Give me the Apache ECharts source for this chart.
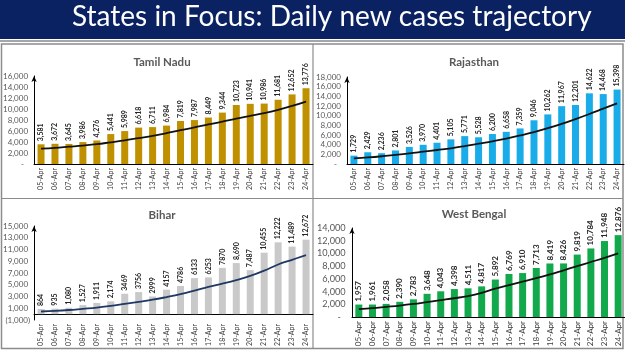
<!DOCTYPE html>
<html>
<head>
<meta charset="utf-8">
<script src="https://cdn.jsdelivr.net/npm/echarts@6/dist/echarts.min.js"></script>
<style>
  html, body { margin: 0; padding: 0; background: #fff; }
  #main { width: 625px; height: 351px; }
</style>
</head>
<body>
<div id="main"></div>
<script>
// dates on x axis
const days = ['05-Apr', '06-Apr', '07-Apr', '08-Apr', '09-Apr', '10-Apr', '11-Apr', '12-Apr', '13-Apr', '14-Apr',
  '15-Apr', '16-Apr', '17-Apr', '18-Apr', '19-Apr', '20-Apr', '21-Apr', '22-Apr', '23-Apr', '24-Apr'];

const tamilNadu = [3581, 3672, 3645, 3986, 4276, 5441, 5989, 6618, 6711, 6984, 7819, 7987, 8449, 9344, 10723, 10941, 10986, 11681, 12652, 13776];
const tamilNaduTrend = [2800, 2950, 3150, 3350, 3600, 3950, 4300, 4700, 5100, 5600, 6150, 6650, 7200, 7700, 8250, 8750, 9250, 9850, 10550, 11350];

const rajasthan = [1729, 2429, 2236, 2801, 3526, 3970, 4401, 5105, 5771, 5528, 6200, 6658, 7359, 9046, 10262, 11967, 12201, 14622, 14468, 15398];
const rajasthanTrend = [1150, 1350, 1600, 1900, 2200, 2550, 2900, 3250, 3700, 4200, 4700, 5250, 5900, 6600, 7400, 8300, 9300, 10350, 11450, 12550];

const bihar = [864, 935, 1080, 1527, 1911, 2174, 3469, 3756, 2999, 4157, 4786, 6133, 6253, 7870, 8690, 7487, 10455, 12222, 11489, 12672];
// some bihar labels are shown without a thousands separator
const biharLabels = ['864', '935', '1,080', '1,527', '1,911', '2,174', '3469', '3756', '2999', '4157', '4786', '6133', '6253', '7870', '8,690', '7,487', '10,455', '12,222', '11,489', '12,672'];
const biharTrend = [450, 550, 700, 900, 1100, 1400, 1750, 2100, 2450, 2900, 3400, 4000, 4650, 5200, 5800, 6500, 7400, 8450, 9250, 10050];

const westBengal = [1957, 1961, 2058, 2390, 2783, 3648, 4043, 4398, 4511, 4817, 5892, 6769, 6910, 7713, 8419, 8426, 9819, 10784, 11948, 12876];
const westBengalTrend = [1250, 1400, 1600, 1800, 2050, 2350, 2650, 2950, 3300, 3800, 4450, 5000, 5550, 6100, 6700, 7350, 8000, 8650, 9300, 10000];

// y axis ranges: [min, max, interval]
const yRanges = [[0, 16000, 2000], [0, 18000, 2000], [-1000, 15000, 2000], [0, 14000, 2000]];

const fontFam = 'Lato, "Open Sans", sans-serif';

function fmtNum(v) {
  return Math.abs(v).toString().replace(/\B(?=(\d{3})+(?!\d))/g, ',');
}
function yLabel(v) {
  if (v === 0) return '-   ';
  if (v < 0) return '(' + fmtNum(v) + ')';
  return fmtNum(v) + ' ';
}

// fs = font scale of the panel (west bengal was pasted a little bigger)
const panels = [
  { name: 'Tamil Nadu', bars: tamilNadu, trend: tamilNaduTrend, color: '#bf9000', line: '#111', fs: 1, grid: { left: 33, top: 76, width: 280, height: 88 }, tx: 157, ty: 51 },
  { name: 'Rajasthan', bars: rajasthan, trend: rajasthanTrend, color: '#1aace8', line: '#111', fs: 1, grid: { left: 347, top: 77, width: 277, height: 87 }, tx: 469, ty: 51 },
  { name: 'Bihar', bars: bihar, trend: biharTrend, color: '#c9c9c9', line: '#1f3864', fs: 1, grid: { left: 33, top: 226, width: 280, height: 94 }, tx: 157, ty: 204 },
  { name: 'West Bengal', bars: westBengal, trend: westBengalTrend, color: '#12a84c', line: '#111', fs: 1.15, grid: { left: 352, top: 228, width: 273, height: 89 }, tx: 469, ty: 203 }
];

var option = {
  animation: false,
  title: panels.map(p => ({
    text: p.name,
    left: p.tx,
    top: p.ty,
    textAlign: 'center',
    textStyle: { color: '#595959', fontSize: 11.5, fontWeight: 'bold', fontFamily: fontFam }
  })),
  graphic: [
    { type: 'rect', shape: { x: 0, y: 0, width: 625, height: 39 }, style: { fill: '#0b2262' } },
    { type: 'line', shape: { x1: 0, y1: 41, x2: 625, y2: 41 }, style: { stroke: '#a6a6a6', lineWidth: 2 } },
    {
      type: 'text', left: 72, top: 3,
      style: { text: 'States in Focus: Daily new cases trajectory', fill: '#fff', font: '28px ' + fontFam }
    },
    // panel frames
    { type: 'rect', shape: { x: 1.5, y: 44, width: 621.5, height: 304.5 }, style: { fill: 'none', stroke: '#8c8c8c', lineWidth: 1.5 } },
    { type: 'line', shape: { x1: 313, y1: 44, x2: 313, y2: 349 }, style: { stroke: '#8c8c8c', lineWidth: 1.2 } },
    { type: 'line', shape: { x1: 1.5, y1: 198.5, x2: 623, y2: 198.5 }, style: { stroke: '#8c8c8c', lineWidth: 1.2 } }
  ],
  grid: panels.map(p => p.grid),
  xAxis: panels.map((p, i) => ({
    type: 'category',
    gridIndex: i,
    data: days,
    axisTick: { show: false },
    axisLine: { lineStyle: { color: '#000', width: 1 } },
    axisLabel: { rotate: 90, fontSize: 7 * p.fs, color: '#404040', margin: 4, fontFamily: fontFam, interval: 0 }
  })),
  yAxis: panels.map((p, i) => ({
    type: 'value',
    gridIndex: i,
    min: yRanges[i][0],
    max: yRanges[i][1],
    interval: yRanges[i][2],
    splitLine: { show: false },
    axisTick: { show: false },
    axisLine: { show: true, symbol: ['none', 'arrow'], symbolSize: [4, 6], lineStyle: { color: '#000', width: 1 } },
    axisLabel: { fontSize: 8 * p.fs, color: '#595959', margin: 4, fontFamily: fontFam, formatter: yLabel }
  })),
  series: []
};

panels.forEach((p, i) => {
  option.series.push({
    type: 'bar',
    xAxisIndex: i,
    yAxisIndex: i,
    data: p.bars,
    barWidth: 7,
    itemStyle: { color: p.color },
    label: {
      show: true,
      position: 'top',
      rotate: 90,
      align: 'left',
      verticalAlign: 'middle',
      distance: 3,
      fontSize: 7 * p.fs,
      fontWeight: 'bold',
      color: '#262626',
      fontFamily: fontFam,
      formatter: params => (i === 2 ? biharLabels[params.dataIndex] : fmtNum(params.value))
    }
  });
  option.series.push({
    type: 'line',
    xAxisIndex: i,
    yAxisIndex: i,
    data: p.trend,
    smooth: 0.4,
    symbol: 'none',
    z: 5,
    lineStyle: { color: p.line, width: 1.8 }
  });
});

let myChart = echarts.init(document.getElementById('main'));
myChart.setOption(option);
</script>
</body>
</html>
